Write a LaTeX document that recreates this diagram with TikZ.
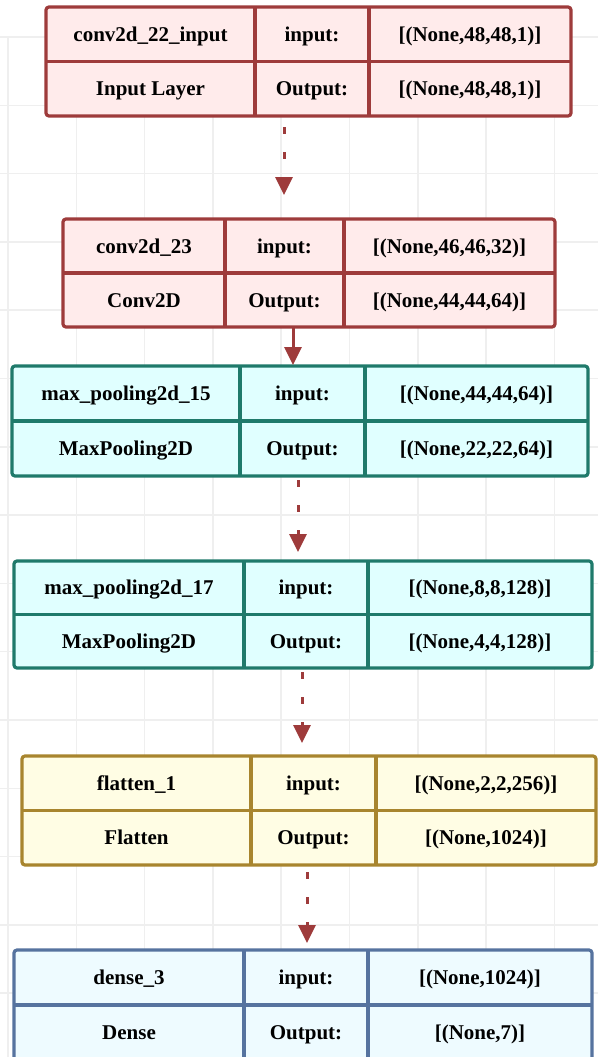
\documentclass[tikz,border=0pt]{standalone}
\usepackage{fontspec}
\setmainfont{Liberation Serif}
\usetikzlibrary{arrows.meta}

\definecolor{redline}{HTML}{9E3B3B}
\definecolor{redfill}{HTML}{FFEBEB}
\definecolor{tealline}{HTML}{1F7A6B}
\definecolor{tealfill}{HTML}{E0FFFF}
\definecolor{goldline}{HTML}{A8852E}
\definecolor{goldfill}{HTML}{FFFDE4}
\definecolor{blueline}{HTML}{56739F}
\definecolor{bluefill}{HTML}{EEFBFF}
\definecolor{gridline}{HTML}{EFEFEF}
\definecolor{linkred}{HTML}{9E3B3B}

\tikzset{
  layerbox/.style={draw=#1line, fill=#1fill, line width=3.2pt,
    rounded corners=3pt, inner sep=0pt, outer sep=0pt},
  layerrule/.style={draw=#1line, line width=3.2pt},
  celltext/.style={anchor=base, inner sep=0pt, text=black,
    font=\fontsize{21}{25}\selectfont\bfseries},
  gridrule/.style={draw=gridline, line width=1.5pt},
  flowdash/.style={draw=linkred, line width=3pt, dash pattern=on 7pt off 18pt,
    -{Triangle[width=17pt,length=18pt]}},
  flowsolid/.style={draw=linkred, line width=3pt,
    -{Triangle[width=17pt,length=18pt]}},
}

% #1 name, #2 colour, #3 left, #4 first rule, #5 second rule, #6 right, #7 top, #8 bottom
\newcommand\nnlayer[8]{%
  \pgfmathsetmacro\Lw{#6-#3}%
  \pgfmathsetmacro\Lh{#8-#7}%
  \pgfmathsetmacro\Lmid{(#7+#8)/2}%
  \pgfmathsetmacro\Lra{(#7+\Lmid)/2+7}%
  \pgfmathsetmacro\Lrb{(\Lmid+#8)/2+7}%
  \pgfmathsetmacro\Lca{(#3+#4)/2}%
  \pgfmathsetmacro\Lcb{(#4+#5)/2}%
  \pgfmathsetmacro\Lcc{(#5+#6)/2}%
  \node[layerbox=#2, anchor=north west, minimum width=\Lw pt,
    minimum height=\Lh pt] (#1) at (#3,#7) {};
  \draw[layerrule=#2] (#3,\Lmid) -- (#6,\Lmid) (#4,#7) -- (#4,#8) (#5,#7) -- (#5,#8);
}

% #1 name, #2 layer name, #3 layer class, #4 input shape, #5 output shape
\newcommand\nntext[5]{%
  \node[celltext] (#1-name) at (\Lca,\Lra) {#2};
  \node[celltext] (#1-kind) at (\Lca,\Lrb) {#3};
  \node[celltext] (#1-inl)  at (\Lcb,\Lra) {input:};
  \node[celltext] (#1-outl) at (\Lcb,\Lrb) {Output:};
  \node[celltext] (#1-in)   at (\Lcc,\Lra) {#4};
  \node[celltext] (#1-out)  at (\Lcc,\Lrb) {#5};
}

\begin{document}
\begin{tikzpicture}[x=1pt, y=-1pt]
  \useasboundingbox (0,0) rectangle (598,1057);
  \clip (0,0) rectangle (598,1057);
  \fill[white] (0,0) rectangle (598,1057);

  % background grid
  \foreach \k in {0,...,8}
    \draw[gridrule] ({8+68.3*\k},37) -- ({8+68.3*\k},1057);
  \foreach \k in {0,...,14}
    \draw[gridrule] (0,{37+68.3*\k}) -- (598,{37+68.3*\k});

  % layers
  \nnlayer{b1}{red}{46}{255}{369}{571}{7}{116}
  \nntext{b1}{conv2d\_22\_input}{Input Layer}{[(None,48,48,1)]}{[(None,48,48,1)]}

  \nnlayer{b2}{red}{63}{225}{344}{555}{219}{327}
  \nntext{b2}{conv2d\_23}{Conv2D}{[(None,46,46,32)]}{[(None,44,44,64)]}

  \nnlayer{b3}{teal}{12}{240}{365}{588}{366}{476}
  \nntext{b3}{max\_pooling2d\_15}{MaxPooling2D}{[(None,44,44,64)]}{[(None,22,22,64)]}

  \nnlayer{b4}{teal}{14}{244}{368}{592}{561}{668}
  \nntext{b4}{max\_pooling2d\_17}{MaxPooling2D}{[(None,8,8,128)]}{[(None,4,4,128)]}

  \nnlayer{b5}{gold}{22}{251}{376}{596}{756}{865}
  \nntext{b5}{flatten\_1}{Flatten}{[(None,2,2,256)]}{[(None,1024)]}

  \nnlayer{b6}{blue}{14}{244}{368}{592}{950}{1060}
  \nntext{b6}{dense\_3}{Dense}{[(None,1024)]}{[(None,7)]}

  % connectors
  \coordinate (ax1) at (284,0);
  \coordinate (ax2) at (293,0);
  \coordinate (ax3) at (298,0);
  \coordinate (ax4) at (302,0);
  \coordinate (ax5) at (307,0);
  \draw[flowdash, shorten <=11pt, shorten >=24pt] (b1.south -| ax1) -- (b2.north -| ax1);
  \draw[flowsolid, shorten >=1pt] (b2.south -| ax2) -- (b3.north -| ax2);
  \draw[flowdash, shorten <=4pt, shorten >=9pt] (b3.south -| ax3) -- (b4.north -| ax3);
  \draw[flowdash, shorten <=4pt, shorten >=13pt] (b4.south -| ax4) -- (b5.north -| ax4);
  \draw[flowdash, shorten <=7pt, shorten >=7pt] (b5.south -| ax5) -- (b6.north -| ax5);
\end{tikzpicture}
\end{document}
